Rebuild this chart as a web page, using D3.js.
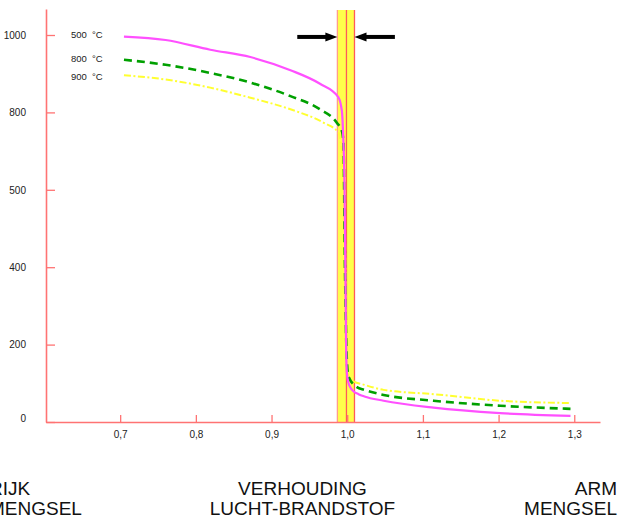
<!DOCTYPE html>
<html>
<head>
<meta charset="utf-8">
<script src="https://cdn.jsdelivr.net/npm/d3@7"></script>
<style>
  body { margin: 0; background: white; }
  svg { display: block; font-family: "Liberation Sans", Arial, Helvetica, sans-serif; }
</style>
</head>
<body>
<script>
const width = 618;
const height = 518;

// data
const xTicks = [0.7, 0.8, 0.9, 1.0, 1.1, 1.2, 1.3];
const yTicks = [0, 200, 400, 500, 800, 1000];
const seriesNames = ["500  °C", "800  °C", "900  °C"];

const x500 = [0.705, 0.760, 0.819, 0.872, 0.925, 0.964, 0.988, 0.993, 0.9945, 0.9965, 0.9975, 0.9985, 0.9996, 1.0017, 1.004, 1.0085, 1.0149, 1.0227, 1.048, 1.114, 1.202, 1.295];
const y500 = [996, 987, 962, 943, 909, 874, 840, 803, 722, 500, 400, 200, 126, 101, 90, 79, 72, 66, 55, 37, 23, 16];

const x800 = [0.705, 0.760, 0.819, 0.872, 0.925, 0.964, 0.986, 0.993, 0.995, 0.997, 0.9995, 1.0017, 1.0128, 1.0227, 1.048, 1.114, 1.202, 1.295];
const y800 = [936, 923, 902, 877, 842, 808, 761, 727, 683, 400, 161, 118, 90, 83, 70, 55, 42, 34];

const x900 = [0.705, 0.760, 0.819, 0.872, 0.925, 0.968, 0.9886, 0.996, 0.999, 1.0017, 1.0083, 1.0227, 1.048, 1.114, 1.202, 1.295];
const y900 = [896, 885, 864, 838, 808, 761, 721, 500, 200, 117, 105, 96, 83, 72, 55, 49];

// stoichiometric band (left edge, middle, right edge)
const bandLines = [0.987, 0.999, 1.0096];
// arrows pointing at the band: [from, to]
const arrowLeft = [0.934, 0.987];
const arrowRight = [1.063, 1.0096];
const arrowLevel = 995;

const svg = d3
  .select("body")
  .append("svg")
  .attr("width", width)
  .attr("height", height);

const x = d3.scaleLinear().domain([0.602, 1.334]).range([46, 600]);
// y ticks are evenly spaced in the picture although the labels are not
const y = d3
  .scaleLinear()
  .domain([0, 200, 400, 500, 800, 1000, 1067])
  .range([422, 344.6, 267.2, 189.8, 112.4, 35, 9]);

const axisColor = "#ff7373";

// yellow band
svg
  .append("rect")
  .attr("x", x(bandLines[0]))
  .attr("y", 10)
  .attr("width", x(bandLines[2]) - x(bandLines[0]))
  .attr("height", y(0) - 10)
  .attr("fill", "#ffff4a");

svg
  .selectAll(".band-line")
  .data(bandLines)
  .enter()
  .append("line")
  .attr("class", "band-line")
  .attr("x1", d => x(d))
  .attr("x2", d => x(d))
  .attr("y1", 10)
  .attr("y2", y(0))
  .attr("stroke", (d, i) => (i == 0 ? "#ff9c8c" : "#ff5a5a"))
  .attr("stroke-width", 1.3);

// axes
const yAxis = svg
  .append("g")
  .attr("transform", `translate(${x(0.602)},0)`)
  .call(
    d3.axisLeft(y)
      .tickValues(yTicks)
      .tickSizeInner(-9)
      .tickSizeOuter(0)
      .tickPadding(20)
      .tickFormat(d => String(d))
  );

const xAxis = svg
  .append("g")
  .attr("transform", `translate(0,${y(0)})`)
  .call(
    d3.axisBottom(x)
      .tickValues(xTicks)
      .tickSizeInner(-7)
      .tickSizeOuter(0)
      .tickPadding(9)
      .tickFormat(d => d3.format(".1f")(d).replace(".", ","))
  );

[xAxis, yAxis].forEach(a => {
  a.select(".domain").attr("stroke", axisColor).attr("stroke-width", 1.6);
  a.selectAll(".tick line").attr("stroke", axisColor).attr("stroke-width", 1.3);
  a.selectAll(".tick text")
    .attr("fill", "#222")
    .attr("font-size", 10)
    .attr("font-family", "Liberation Sans, Arial, sans-serif");
});
yAxis.selectAll(".tick text").filter(d => d === 0).attr("dy", "-0.1em");
xAxis.select(".domain").raise();

// curves
const series = [
  { name: seriesNames[0], xs: x500, ys: y500, color: "#ff50ff", width: 2.2, dash: null },
  { name: seriesNames[1], xs: x800, ys: y800, color: "#00a000", width: 2.6, dash: "8,5" },
  { name: seriesNames[2], xs: x900, ys: y900, color: "#ffff30", width: 2, dash: "7,2.5,2,2.5" },
];

const line = d3
  .line()
  .x(d => x(d[0]))
  .y(d => y(d[1]))
  .curve(d3.curveMonotoneX);

svg
  .selectAll(".curve")
  .data(series.slice().reverse())
  .enter()
  .append("path")
  .attr("class", "curve")
  .attr("fill", "none")
  .attr("stroke", d => d.color)
  .attr("stroke-width", d => d.width)
  .attr("stroke-dasharray", d => d.dash)
  .attr("d", d => line(d.xs.map((v, i) => [v, d.ys[i]])));

// legend labels
const legendY = [35, 59, 77];
series.forEach((s, i) => {
  const parts = s.name.split("  ");
  const t = svg
    .append("text")
    .attr("y", legendY[i])
    .attr("dy", "0.35em")
    .attr("font-size", 9.5)
    .attr("fill", "#222");
  t.append("tspan").attr("x", 71).text(parts[0]);
  t.append("tspan").attr("x", 92).text(parts[1]);
});

// arrows
[arrowLeft, arrowRight].forEach(a => {
  const dir = a[1] > a[0] ? 1 : -1;
  const tip = x(a[1]);
  const yy = y(arrowLevel);
  svg
    .append("line")
    .attr("x1", x(a[0]))
    .attr("x2", tip - dir * 10)
    .attr("y1", yy)
    .attr("y2", yy)
    .attr("stroke", "black")
    .attr("stroke-width", 4);
  svg
    .append("path")
    .attr("d", `M${tip},${yy} L${tip - dir * 12},${yy - 4.5} L${tip - dir * 12},${yy + 4.5} Z`)
    .attr("fill", "black");
});

// bottom captions (the left one runs off the edge, as in the original)
const captions = [
  { lines: ["RIJK", "MENGSEL"], x: -11, anchor: "start" },
  { lines: ["VERHOUDING", "LUCHT-BRANDSTOF"], x: 302.5, anchor: "middle" },
  { lines: ["ARM", "MENGSEL"], x: 617, anchor: "end" },
];
captions.forEach(c => {
  c.lines.forEach((l, i) => {
    svg
      .append("text")
      .attr("x", c.x)
      .attr("y", 495 + i * 20)
      .attr("text-anchor", c.anchor)
      .attr("font-size", 19)
      .attr("fill", "#111")
      .text(l);
  });
});
</script>
</body>
</html>
